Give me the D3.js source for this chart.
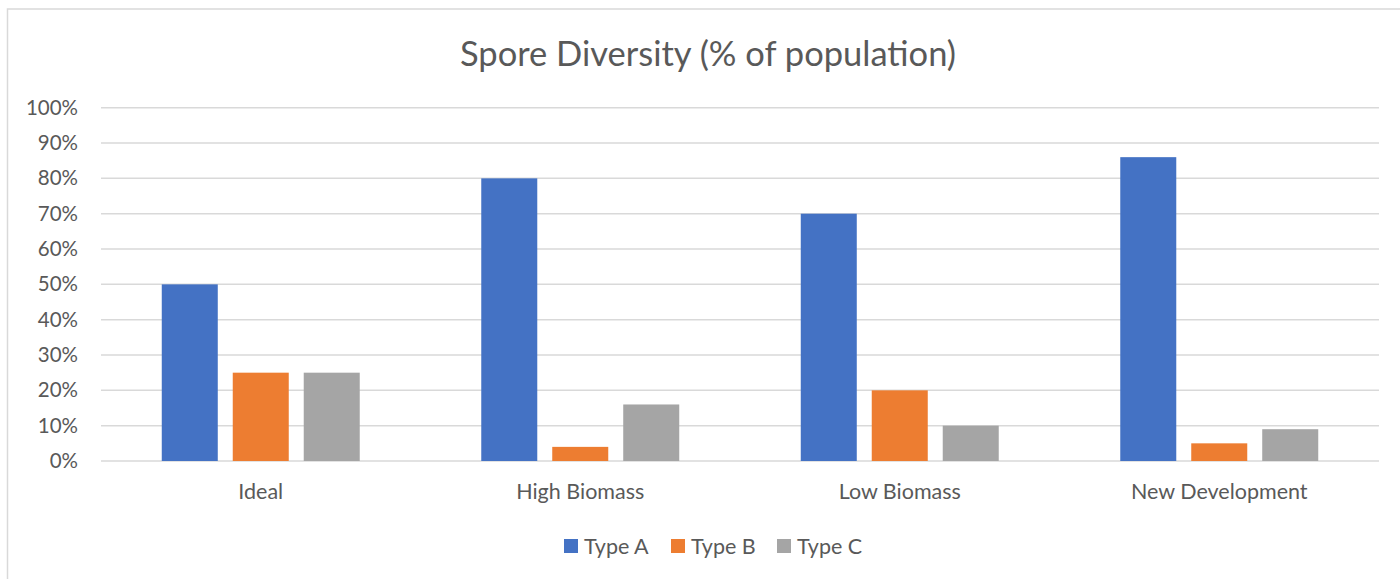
<!DOCTYPE html>
<html>
<head>
<meta charset="utf-8">
<script src="https://cdnjs.cloudflare.com/ajax/libs/d3/7.8.5/d3.min.js"></script>
<style>
  body { margin: 0; background: #fff; }
  text { font-family: Lato, 'Open Sans', sans-serif; fill: #595959; }
</style>
</head>
<body>
<script>
var categories = ['Ideal', 'High Biomass', 'Low Biomass', 'New Development'];
var seriesNames = ['Type A', 'Type B', 'Type C'];
var typeA = [0.50, 0.80, 0.70, 0.86];
var typeB = [0.25, 0.04, 0.20, 0.05];
var typeC = [0.25, 0.16, 0.10, 0.09];
var yTicks = [0, 0.1, 0.2, 0.3, 0.4, 0.5, 0.6, 0.7, 0.8, 0.9, 1.0];
var colors = ['#4472c4', '#ed7d31', '#a5a5a5'];

var svgwidth = 1400, svgheight = 579,
    margin = { top: 107.7, right: 21, bottom: 118, left: 101 }, //plot area edges
    plotRight = svgwidth - margin.right,
    plotBottom = svgheight - margin.bottom;

var svg = d3.select('body')
    .append('svg')
    .attr('width', svgwidth)
    .attr('height', svgheight);

//chart border, runs off the right and bottom
svg.append('rect')
    .attr('x', 7.5)
    .attr('y', 9)
    .attr('width', 1500)
    .attr('height', 700)
    .attr('fill', 'none')
    .attr('stroke', '#d9d9d9')
    .attr('stroke-width', 1.5);

var x0 = d3.scaleBand()
    .domain(categories)
    .range([margin.left, plotRight])
    .padding(0);

var x1 = d3.scaleBand()
    .domain(seriesNames)
    .range([0, x0.bandwidth()])
    .paddingInner(0.211)
    .paddingOuter(0.856);

var yscale = d3.scaleLinear()
    .domain([0, 1])
    .range([plotBottom, margin.top]);

var color = d3.scaleOrdinal().domain(seriesNames).range(colors);

//gridlines
svg.append('g')
    .selectAll('line')
    .data(yTicks)
    .enter().append('line')
    .attr('x1', margin.left)
    .attr('x2', plotRight)
    .attr('y1', function (d) { return yscale(d); })
    .attr('y2', function (d) { return yscale(d); })
    .attr('stroke', '#d9d9d9')
    .attr('stroke-width', 1.5);

//y axis labels
var yaxis = d3.axisLeft(yscale)
    .tickValues(yTicks)
    .tickFormat(d3.format('.0%'))
    .tickSize(0)
    .tickPadding(23);
var yg = svg.append('g')
    .attr('transform', 'translate(' + margin.left + ',0)')
    .call(yaxis);
yg.select('.domain').remove();
yg.selectAll('text')
    .attr('font-size', '20.5px')
    .attr('fill', '#595959')
    .style('font-family', "Lato, 'Open Sans', sans-serif");

//bars
var series = [typeA, typeB, typeC];
var rows = [];
categories.forEach(function (c, i) {
    seriesNames.forEach(function (s, j) {
        rows.push({ cat: c, name: s, value: series[j][i] });
    });
});

svg.append('g')
    .selectAll('rect')
    .data(rows)
    .enter().append('rect')
    .attr('x', function (d) { return x0(d.cat) + x1(d.name); })
    .attr('y', function (d) { return yscale(d.value); })
    .attr('width', x1.bandwidth())
    .attr('height', function (d) { return plotBottom - yscale(d.value); })
    .attr('fill', function (d) { return color(d.name); });

//category labels
var xaxis = d3.axisBottom(x0).tickSize(0).tickPadding(23);
var xg = svg.append('g')
    .attr('transform', 'translate(0,' + plotBottom + ')')
    .call(xaxis);
xg.select('.domain').remove();
xg.selectAll('text')
    .attr('font-size', '21.5px')
    .attr('fill', '#595959')
    .style('font-family', "Lato, 'Open Sans', sans-serif");

//title
svg.append('text')
    .attr('x', 708)
    .attr('y', 66)
    .attr('text-anchor', 'middle')
    .attr('font-size', '34.5px')
    .text('Spore Diversity (% of population)');

//legend
var legendx = [564, 671, 777];
var legend = svg.append('g')
    .selectAll('g')
    .data(seriesNames)
    .enter().append('g')
    .attr('transform', function (d, i) { return 'translate(' + legendx[i] + ', 539)'; });
legend.append('rect')
    .attr('width', 14)
    .attr('height', 14)
    .attr('fill', function (d) { return color(d); });
legend.append('text')
    .attr('x', 20)
    .attr('y', 14.5)
    .attr('font-size', '21.5px')
    .text(function (d) { return d; });
</script>
</body>
</html>
